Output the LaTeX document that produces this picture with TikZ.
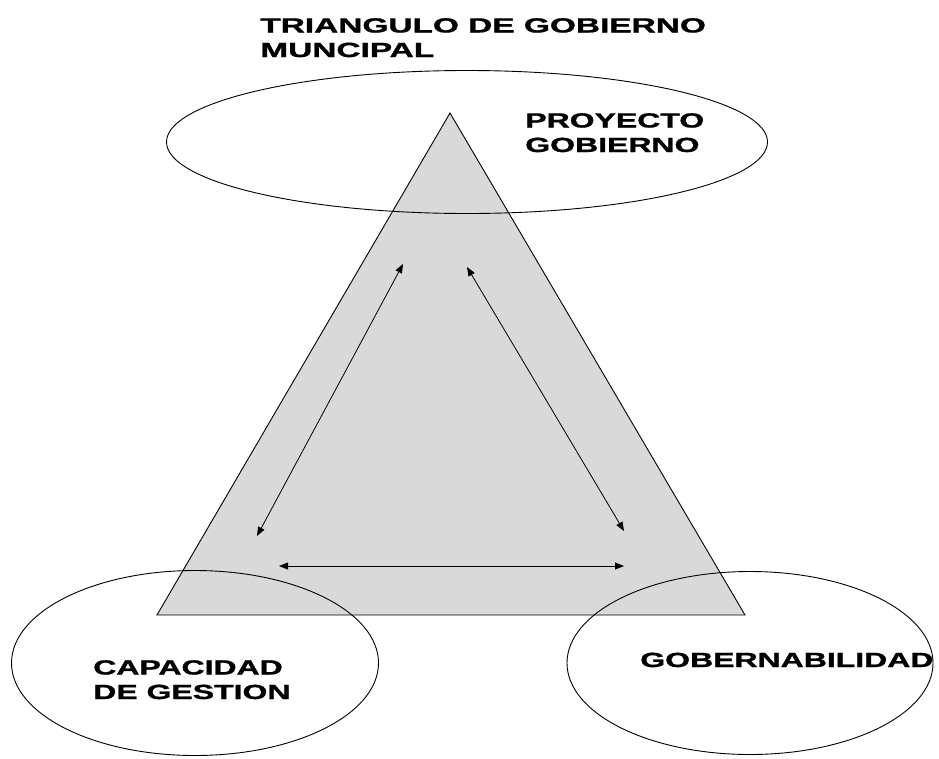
\documentclass[tikz,border=0pt]{standalone}
\usepackage{fontspec}
\setmainfont{Liberation Sans}[BoldFeatures={FakeBold=1}]
\usetikzlibrary{arrows.meta,shapes.geometric}
\tikzset{
  lbl/.style={font=\fontsize{20.5}{24.5}\bfseries\selectfont, align=left, anchor=base west, inner sep=0pt, transform shape, xscale=1.56},
  ell/.style={draw=black, line width=0.9pt, ellipse, inner sep=0pt},
  dbl/.style={draw=black, line width=0.8pt, {Triangle[length=9pt,width=7pt]}-{Triangle[length=9pt,width=7pt]}, shorten <=0pt, shorten >=0pt}
}
\begin{document}
\begin{tikzpicture}[x=1pt,y=-1pt]
\useasboundingbox (0,0) rectangle (939,758);
% triangle
\coordinate (A) at (450,113);
\coordinate (B) at (157,615);
\coordinate (C) at (745,615);
\draw[fill=black!15, line width=0.9pt] (A) -- (B) -- (C) -- cycle;
% ellipses
\node[ell, minimum width=601pt, minimum height=143pt] (pg) at (467,142) {};
\node[ell, minimum width=367pt, minimum height=185pt] (cg) at (195,663) {};
\node[ell, minimum width=366pt, minimum height=183pt] (gb) at (750,663) {};
% arrows
\coordinate (l1) at (257,536);
\coordinate (l2) at (403,264);
\coordinate (r1) at (467,267);
\coordinate (r2) at (624,531);
\coordinate (b1) at (279,566);
\coordinate (b2) at (624,566);
\draw[dbl] (l1) -- (l2);
\draw[dbl] (r1) -- (r2);
\draw[dbl] (b1) -- (b2);
% texts (base anchor = baseline of last line)
\node[lbl, xscale=1.045] (title) at (260,57) {TRIANGULO DE GOBIERNO\\MUNCIPAL};
\node[lbl] (tpg) at (525,152) {PROYECTO\\GOBIERNO};
\node[lbl] (tcg) at (93,699) {CAPACIDAD\\DE GESTION};
\node[lbl] (tgb) at (640,667) {GOBERNABILIDAD};
\end{tikzpicture}
\end{document}
